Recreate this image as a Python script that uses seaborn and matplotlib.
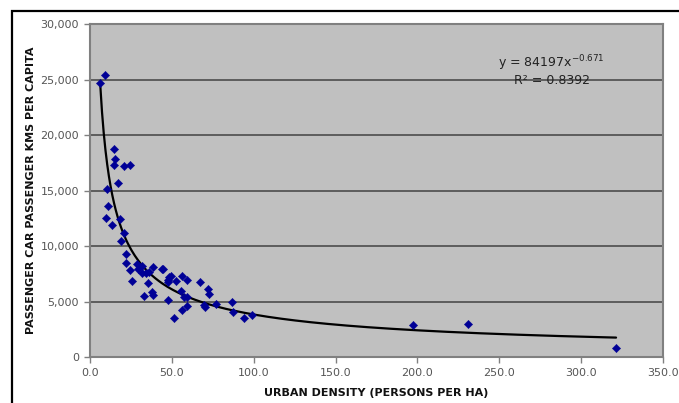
import numpy as np
import pandas as pd
import seaborn as sns
import matplotlib.pyplot as plt
from matplotlib.patches import Rectangle
from matplotlib.ticker import FuncFormatter

# urban density (persons per ha) vs passenger car km per capita
density = [6.3, 9.2, 14.7, 15.3, 14.7, 20.8, 24.4, 17.3, 10.4, 11.0,
           9.7, 18.1, 13.7, 20.5, 19.2, 22.1, 21.9, 24.2, 25.5, 28.9,
           29.2, 31.7, 31.8, 34.4, 36.2, 38.4, 35.7, 33.1, 37.7, 38.5,
           43.8, 44.8, 47.6, 48.3, 49.6, 47.6, 52.8, 56.2, 59.1, 55.7,
           57.3, 59.1, 47.8, 59.4, 56.4, 51.5, 67.4, 71.8, 72.7, 69.8,
           70.0, 76.9, 86.5, 87.6, 93.9, 98.8, 197.2, 230.9, 321.3]
car_km = [24700, 25400, 18700, 17800, 17300, 17200, 17300, 15700, 15100, 13600,
          12500, 12450, 11900, 11150, 10450, 9250, 8450, 7850, 6850, 8400,
          7950, 8180, 7540, 7580, 7690, 8140, 6710, 5500, 5880, 5620,
          7950, 7900, 6940, 7180, 7260, 6750, 6830, 7270, 6940, 5930,
          5430, 5380, 5110, 4590, 4280, 3500, 6730, 6100, 5680, 4720,
          4520, 4810, 4920, 4080, 3500, 3800, 2880, 3000, 840]

# power trendline as printed on the chart
fit_a = 84197
fit_b = -0.671
fit_r2 = 0.8392

df = pd.DataFrame({"density": density, "car_km": car_km})
xs = np.linspace(min(density), max(density), 300)
trend = pd.DataFrame({"density": xs, "car_km": fit_a * xs ** fit_b})

sns.set_style("white")
plt.rcParams["font.family"] = ["DejaVu Sans"]
plt.rcParams["axes.unicode_minus"] = False

fig = plt.figure(figsize=(6.79, 4.03), dpi=100)
ax = fig.add_axes([0.1325, 0.1141, 0.844, 0.8263])
ax.set_facecolor("#c0c0c0")

sns.lineplot(data=trend, x="density", y="car_km", color="black", lw=1.6, ax=ax, zorder=3)
sns.scatterplot(data=df, x="density", y="car_km", marker="D", s=18, color="#000096",
                edgecolor="#000096", linewidth=0.3, ax=ax, zorder=4)

ax.set_xlim(0, 350)
ax.set_ylim(0, 30000)
ax.set_xticks(range(0, 351, 50))
ax.set_yticks(range(0, 30001, 5000))
ax.xaxis.set_major_formatter(FuncFormatter(lambda v, p: f"{v:.1f}"))
ax.yaxis.set_major_formatter(FuncFormatter(lambda v, p: f"{v:,.0f}"))
ax.grid(axis="y", color="#555555", lw=1.3)
ax.grid(axis="x", visible=False)
ax.set_axisbelow(True)
for s in ax.spines.values():
    s.set_color("#808080")
    s.set_linewidth(1.5)
ax.tick_params(axis="both", direction="out", length=4, width=1, color="#808080",
               labelcolor="#555555", labelsize=8, pad=4, left=True, bottom=True)

ax.set_xlabel("URBAN DENSITY (PERSONS PER HA)", fontsize=8, fontweight="bold", color="#111111", labelpad=7)
ax.set_ylabel("PASSENGER CAR PASSENGER KMS PER CAPITA", fontsize=8, fontweight="bold", color="#111111", labelpad=3)

ax.text(282, 26500, f"y = {fit_a}x$^{{{fit_b}}}$", ha="center", va="center", fontsize=9, color="#222222")
ax.text(282, 24950, f"R² = {fit_r2}", ha="center", va="center", fontsize=9, color="#222222")

fig.add_artist(Rectangle((12 / 679, -0.5), 2, 0.5 + 1 - 11 / 403, transform=fig.transFigure,
                         fill=False, edgecolor="black", lw=1.6))

fig.savefig("out.png", dpi=100)
